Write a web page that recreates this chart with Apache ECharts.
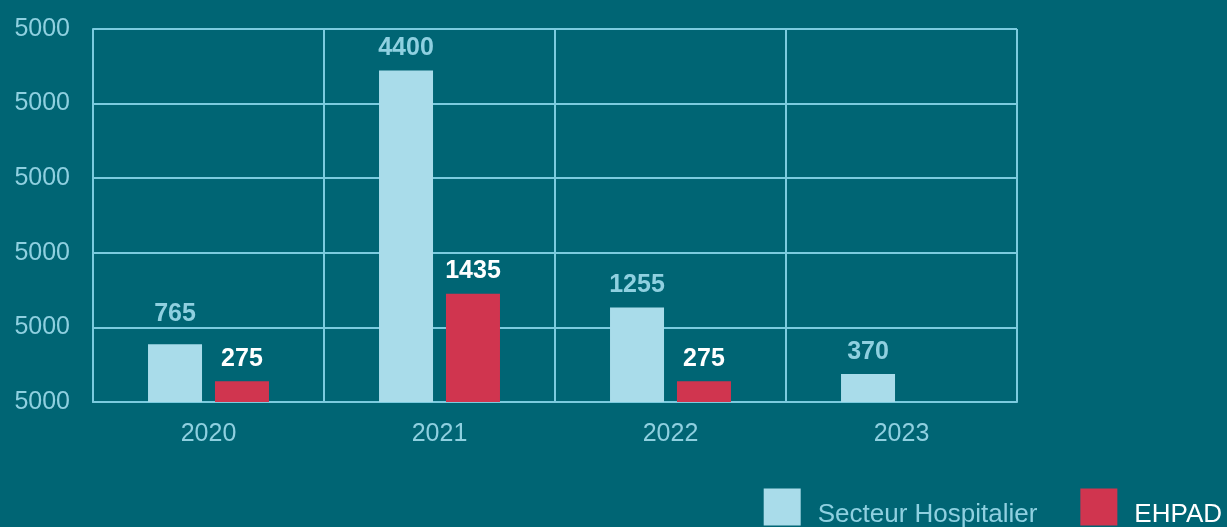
<!DOCTYPE html>
<html>
<head>
<meta charset="utf-8">
<script src="https://cdn.jsdelivr.net/npm/echarts@6/dist/echarts.min.js"></script>
<style>
  html, body { margin: 0; padding: 0; background: #006574; }
  #chart { width: 1227px; height: 527px; }
</style>
</head>
<body>
<div id="chart"></div>
<script>
// data
const years = ['2020', '2021', '2022', '2023'];
const hospitalier = [765, 4400, 1255, 370];
const ehpad = [275, 1435, 275, null];
const yTickLabel = '5000'; // every y tick reads "5000" in the original

const lineColor = '#7ccbdf';
const textColor = '#8fd0e0';
const blue = '#a9dcea';
const red = '#d0354f';

var myChart = echarts.init(document.getElementById('chart'));
myChart.setOption({
    backgroundColor: '#006574',
    animation: false,
    textStyle: { fontFamily: 'Liberation Sans, Arial, sans-serif' },
    grid: { left: 93, right: 210, top: 29, bottom: 125 },
    legend: {
        right: 0,
        top: 481,
        itemWidth: 37,
        itemHeight: 37,
        itemGap: 43,
        icon: 'rect',
        data: [
            { name: 'Secteur Hospitalier', textStyle: { color: textColor } },
            { name: 'EHPAD', textStyle: { color: '#ffffff' } }
        ],
        // empty first line pushes the label below the square's middle
        formatter: function (name) { return '\n' + name; },
        textStyle: { fontSize: 26, lineHeight: 16, padding: [0, 0, 0, 12] }
    },
    xAxis: {
        type: 'category',
        data: years,
        axisLine: { lineStyle: { color: lineColor, width: 2 } },
        axisTick: { show: false },
        axisLabel: { color: textColor, fontSize: 25, margin: 20 },
        splitLine: { show: true, lineStyle: { color: lineColor, width: 2 } }
    },
    yAxis: {
        type: 'value',
        min: 0,
        max: 4950,
        interval: 990,
        axisLine: { show: true, lineStyle: { color: lineColor, width: 2 } },
        axisTick: { show: false },
        axisLabel: { color: textColor, fontSize: 25, margin: 23, formatter: function () { return yTickLabel; } },
        splitLine: { lineStyle: { color: lineColor, width: 2 } }
    },
    series: [
        {
            name: 'Secteur Hospitalier',
            type: 'bar',
            data: hospitalier.map(function (v, i) {
                return i === 0 ? { value: v, label: { distance: 18 } } : v;
            }),
            barWidth: 54,
            barGap: '24%',
            itemStyle: { color: blue },
            label: { show: true, position: 'top', distance: 10, color: textColor, fontSize: 25, fontWeight: 'bold' }
        },
        {
            name: 'EHPAD',
            type: 'bar',
            data: ehpad,
            barWidth: 54,
            barGap: '24%',
            itemStyle: { color: red },
            label: { show: true, position: 'top', distance: 10, color: '#ffffff', fontSize: 25, fontWeight: 'bold' }
        }
    ]
});
</script>
</body>
</html>
